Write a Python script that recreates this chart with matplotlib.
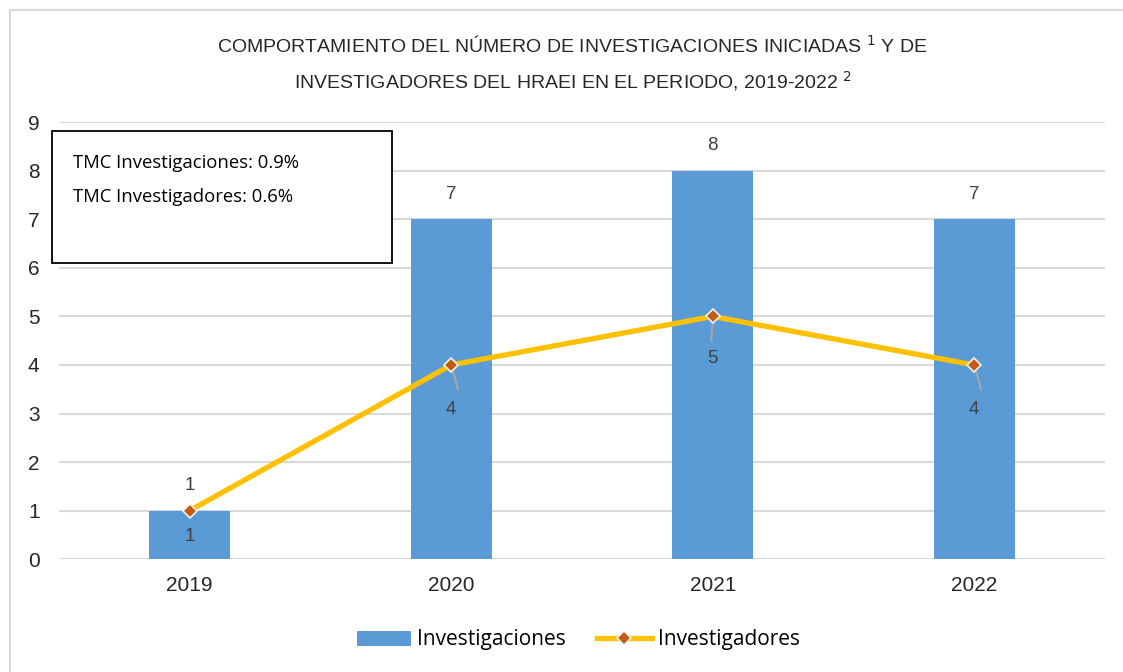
import matplotlib.pyplot as plt
from matplotlib.patches import Rectangle

years = ['2019', '2020', '2021', '2022']
investigaciones = [1, 7, 8, 7]
investigadores = [1, 4, 5, 4]

narrow = ['Liberation Sans Narrow', 'Liberation Sans', 'DejaVu Sans']
plt.rcParams['font.family'] = narrow

fig = plt.figure(figsize=(11.23, 6.72), dpi=100)
ax = fig.add_axes([0.0525, 0.168, 0.9315, 0.650])

x = list(range(len(years)))
bars = ax.bar(x, investigaciones, width=0.31, color='#5B9BD5', zorder=2, label='Investigaciones')
line, = ax.plot(x, investigadores, color='#FFC000', lw=3.8, marker='D', markersize=7,
                markerfacecolor='#C55A11', markeredgecolor='#F2F2F2', markeredgewidth=1.2,
                zorder=3, label='Investigadores')

# data labels
lab_color = '#404040'
for i, v in enumerate(investigaciones):
    ax.annotate(str(v), (i, v), xytext=(0, 18), textcoords='offset points',
                ha='center', va='center', fontsize=13.5, color=lab_color)
for i, v in enumerate(investigadores):
    if i == 0:
        ax.annotate(str(v), (i, v), xytext=(0, -19), textcoords='offset points',
                    ha='center', va='center', fontsize=13.5, color=lab_color)
    else:
        off = -32 if i != 2 else -30
        ax.annotate(str(v), (i, v), xytext=(0, off), textcoords='offset points',
                    ha='center', va='center', fontsize=13.5, color=lab_color, zorder=4)
        # leader line
        ax.annotate('', (i, v), xytext=(5 if i != 2 else -1, -18), textcoords='offset points',
                    arrowprops=dict(arrowstyle='-', color='#A6A6A6', lw=1.5,
                                    shrinkA=0, shrinkB=4), zorder=2.5)

ax.set_xlim(-0.5, 3.5)
ax.set_ylim(0, 9)
ax.set_yticks(range(10))
ax.set_xticks(x)
ax.set_xticklabels(years)
ax.tick_params(axis='both', length=0, labelsize=15, colors='#262626')
ax.tick_params(axis='x', pad=12)
ax.tick_params(axis='y', pad=14)
ax.grid(axis='y', color='#D9D9D9', lw=1.5, zorder=0)
for s in ax.spines.values():
    s.set_visible(False)

fig.text(0.51, 0.905, 'COMPORTAMIENTO DEL NÚMERO DE INVESTIGACIONES INICIADAS $^{1}$ Y DE\n'
         'INVESTIGADORES DEL HRAEI EN EL PERIODO, 2019-2022 $^{2}$',
         ha='center', va='center', fontsize=14, color='#262626', linespacing=1.6)

# text box
fig.patches.append(Rectangle((52 / 1123, 1 - 263 / 672), 340 / 1123, 132 / 672,
                             transform=fig.transFigure, facecolor='white',
                             edgecolor='black', lw=1.3, zorder=5))
box_font = ['Open Sans', 'DejaVu Sans']
fig.text(73 / 1123, 1 - 163 / 672, 'TMC Investigaciones: 0.9%', fontsize=13.3,
         family=box_font, va='center', zorder=6)
fig.text(73 / 1123, 1 - 197 / 672, 'TMC Investigadores: 0.6%', fontsize=13.3,
         family=box_font, va='center', zorder=6)

# outer frame
fig.patches.append(Rectangle((10 / 1123, -0.01), 1.05, 1 - 10 / 672 + 0.01,
                             transform=fig.transFigure, facecolor='none',
                             edgecolor='#D9D9D9', lw=1.5))

fig.legend([bars, line], ['Investigaciones', 'Investigadores'], loc='center',
           bbox_to_anchor=(0.515, 1 - 640 / 672), ncol=2, frameon=False,
           handlelength=2.6, columnspacing=1.5, handletextpad=0.3,
           prop={'family': box_font, 'size': 15})

fig.savefig('out.png', dpi=100)
